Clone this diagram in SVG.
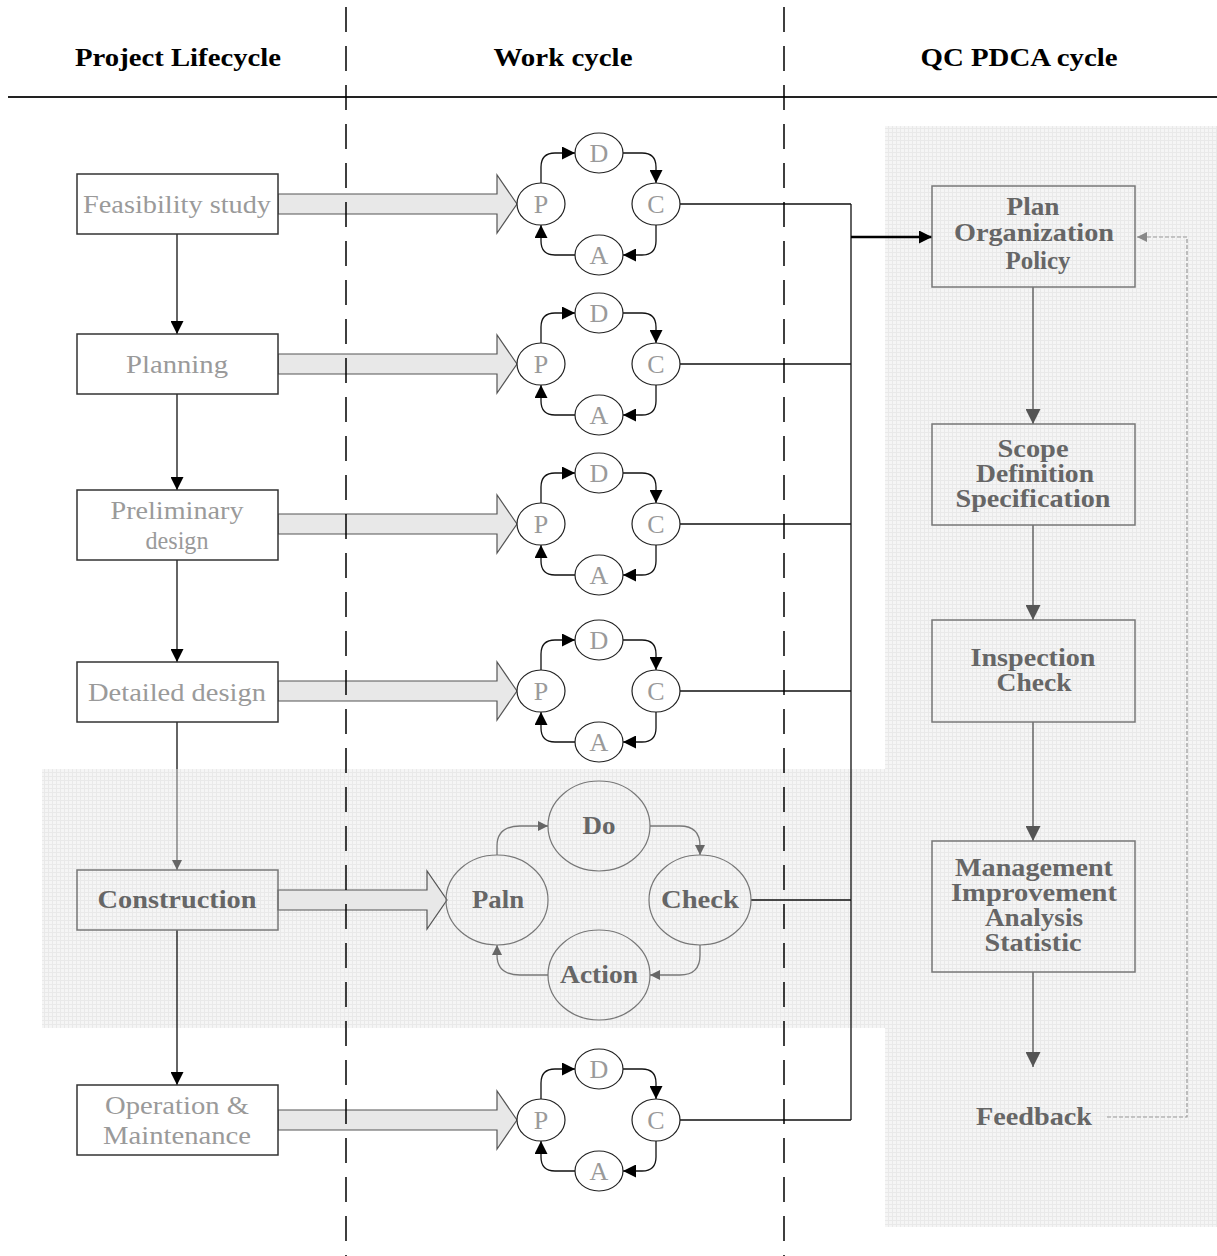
<svg xmlns="http://www.w3.org/2000/svg" width="1217" height="1256" viewBox="0 0 1217 1256">
<style>
.hd{font-family:"Liberation Serif",serif;font-weight:bold;font-size:26px;fill:#000;text-anchor:middle}
.lt{font-family:"Liberation Serif",serif;font-size:26px;fill:#9a9a9a;text-anchor:middle}
.pd{font-family:"Liberation Serif",serif;font-size:26px;fill:#9a9a9a;text-anchor:middle}
.bt{font-family:"Liberation Serif",serif;font-weight:bold;font-size:25px;fill:#666;text-anchor:middle}
.box{fill:#fff;stroke:#333;stroke-width:1.5}
.gbox{fill:none;stroke:#777;stroke-width:1.5}
.el{fill:#fff;stroke:#222;stroke-width:1.2}
.gel{fill:none;stroke:#777;stroke-width:1.2}
.blk{fill:#e8e8e8;stroke:#555;stroke-width:1.2}
.ln{fill:none;stroke:#111;stroke-width:1.3}
.gln{fill:none;stroke:#777;stroke-width:1.3}
.div{fill:none;stroke:#000;stroke-width:1.5;stroke-dasharray:25 14}
</style>
<defs>
<pattern id="grid" width="4" height="4" patternUnits="userSpaceOnUse"><rect width="4" height="4" fill="#f5f5f5"/><path d="M0,0.5H4M0.5,0V4" stroke="#e9e9e9" stroke-width="1"/></pattern>
<marker id="ah" viewBox="0 0 10 10" refX="10" refY="5" markerWidth="13" markerHeight="13" markerUnits="userSpaceOnUse" orient="auto"><path d="M0,0L10,5L0,10z" fill="#000"/></marker>
<marker id="ahb" viewBox="0 0 10 10" refX="10" refY="5" markerWidth="14" markerHeight="13" markerUnits="userSpaceOnUse" orient="auto"><path d="M0,0L10,5L0,10z" fill="#000"/></marker>
<marker id="ahg" viewBox="0 0 10 10" refX="10" refY="5" markerWidth="10" markerHeight="10" markerUnits="userSpaceOnUse" orient="auto"><path d="M0,0L10,5L0,10z" fill="#666"/></marker>
<marker id="ahr" viewBox="0 0 10 10" refX="10" refY="5" markerWidth="18" markerHeight="15" markerUnits="userSpaceOnUse" orient="auto"><path d="M0,0L10,5L0,10z" fill="#555"/></marker>
<marker id="ahf" viewBox="0 0 10 10" refX="10" refY="5" markerWidth="10" markerHeight="10" markerUnits="userSpaceOnUse" orient="auto"><path d="M0,0L10,5L0,10z" fill="#888"/></marker>
</defs>

<!-- background regions -->
<rect x="885" y="126" width="332" height="1101" fill="url(#grid)"/>
<rect x="42" y="769" width="843" height="259" fill="url(#grid)"/>

<!-- header -->
<g id="header">
<text class="hd" x="178" y="66" textLength="206" lengthAdjust="spacingAndGlyphs">Project Lifecycle</text>
<text class="hd" x="563" y="66" textLength="139" lengthAdjust="spacingAndGlyphs">Work cycle</text>
<text class="hd" x="1019" y="66" textLength="197" lengthAdjust="spacingAndGlyphs">QC PDCA cycle</text>
<path d="M8,97H1217" stroke="#222" stroke-width="2"/>
</g>

<!-- block arrows -->
<g id="block-arrows">
<polygon class="blk" points="278,194 497,194 497,175 517,204 497,233 497,214 278,214"/>
<polygon class="blk" points="278,354 497,354 497,335 517,364 497,393 497,374 278,374"/>
<polygon class="blk" points="278,514 497,514 497,495 517,524 497,553 497,534 278,534"/>
<polygon class="blk" points="278,681 497,681 497,662 517,691 497,720 497,701 278,701"/>
<polygon class="blk" points="278,890 427,890 427,871 447,900 427,929 427,910 278,910"/>
<polygon class="blk" points="278,1110 497,1110 497,1091 517,1120 497,1149 497,1130 278,1130"/>
</g>

<!-- connectors -->
<g id="connectors">
<!-- lifecycle -->
<path class="ln" d="M177,234V334" marker-end="url(#ah)"/>
<path class="ln" d="M177,394V490" marker-end="url(#ah)"/>
<path class="ln" d="M177,560V662" marker-end="url(#ah)"/>
<path class="ln" d="M177,722V769"/>
<path class="gln" d="M177,769V870" marker-end="url(#ahg)"/>
<path class="ln" d="M177,930V1085" marker-end="url(#ah)"/>
<!-- small cycles -->
<g transform="translate(541,204)"><path class="ln" d="M0,-21V-37Q0,-51 14,-51H34" marker-end="url(#ah)"/><path class="ln" d="M82,-51H101Q115,-51 115,-37V-21" marker-end="url(#ah)"/><path class="ln" d="M115,21V37Q115,51 101,51H82" marker-end="url(#ah)"/><path class="ln" d="M34,51H14Q0,51 0,37V21" marker-end="url(#ah)"/></g>
<g transform="translate(541,364)"><path class="ln" d="M0,-21V-37Q0,-51 14,-51H34" marker-end="url(#ah)"/><path class="ln" d="M82,-51H101Q115,-51 115,-37V-21" marker-end="url(#ah)"/><path class="ln" d="M115,21V37Q115,51 101,51H82" marker-end="url(#ah)"/><path class="ln" d="M34,51H14Q0,51 0,37V21" marker-end="url(#ah)"/></g>
<g transform="translate(541,524)"><path class="ln" d="M0,-21V-37Q0,-51 14,-51H34" marker-end="url(#ah)"/><path class="ln" d="M82,-51H101Q115,-51 115,-37V-21" marker-end="url(#ah)"/><path class="ln" d="M115,21V37Q115,51 101,51H82" marker-end="url(#ah)"/><path class="ln" d="M34,51H14Q0,51 0,37V21" marker-end="url(#ah)"/></g>
<g transform="translate(541,691)"><path class="ln" d="M0,-21V-37Q0,-51 14,-51H34" marker-end="url(#ah)"/><path class="ln" d="M82,-51H101Q115,-51 115,-37V-21" marker-end="url(#ah)"/><path class="ln" d="M115,21V37Q115,51 101,51H82" marker-end="url(#ah)"/><path class="ln" d="M34,51H14Q0,51 0,37V21" marker-end="url(#ah)"/></g>
<g transform="translate(541,1120)"><path class="ln" d="M0,-21V-37Q0,-51 14,-51H34" marker-end="url(#ah)"/><path class="ln" d="M82,-51H101Q115,-51 115,-37V-21" marker-end="url(#ah)"/><path class="ln" d="M115,21V37Q115,51 101,51H82" marker-end="url(#ah)"/><path class="ln" d="M34,51H14Q0,51 0,37V21" marker-end="url(#ah)"/></g>
<!-- big cycle -->
<path class="gln" d="M497,855V846Q497,826 520,826H548" marker-end="url(#ahg)"/>
<path class="gln" d="M650,826H680Q700,826 700,846V855" marker-end="url(#ahg)"/>
<path class="gln" d="M700,945V955Q700,975 680,975H650" marker-end="url(#ahg)"/>
<path class="gln" d="M548,975H520Q497,975 497,955V945" marker-end="url(#ahg)"/>
<!-- to QC -->
<path class="ln" d="M680,204H851M680,364H851M680,524H851M680,691H851M751,900H851M680,1120H851M851,204V1120"/>
<path d="M851,237H932" fill="none" stroke="#000" stroke-width="2.5" marker-end="url(#ahb)"/>
<!-- QC chain -->
<path d="M1033,287V424" fill="none" stroke="#666" stroke-width="1.5" marker-end="url(#ahr)"/>
<path d="M1033,525V620" fill="none" stroke="#666" stroke-width="1.5" marker-end="url(#ahr)"/>
<path d="M1033,722V841" fill="none" stroke="#666" stroke-width="1.5" marker-end="url(#ahr)"/>
<path d="M1033,972V1067" fill="none" stroke="#666" stroke-width="1.5" marker-end="url(#ahr)"/>
<path d="M1107,1117H1187V237H1137" fill="none" stroke="#999" stroke-width="1.2" stroke-dasharray="4 2" marker-end="url(#ahf)"/>
</g>

<!-- lifecycle nodes -->
<g id="n-feasibility"><rect class="box" x="77" y="174" width="201" height="60"/><text class="lt" x="177" y="213" textLength="188" lengthAdjust="spacingAndGlyphs">Feasibility study</text></g>
<g id="n-planning"><rect class="box" x="77" y="334" width="201" height="60"/><text class="lt" x="177" y="373" textLength="102" lengthAdjust="spacingAndGlyphs">Planning</text></g>
<g id="n-preliminary"><rect class="box" x="77" y="490" width="201" height="70"/><text class="lt" x="177" y="519" textLength="133" lengthAdjust="spacingAndGlyphs">Preliminary</text><text class="lt" x="177" y="549" textLength="63" lengthAdjust="spacingAndGlyphs">design</text></g>
<g id="n-detailed"><rect class="box" x="77" y="662" width="201" height="60"/><text class="lt" x="177" y="701" textLength="178" lengthAdjust="spacingAndGlyphs">Detailed design</text></g>
<g id="n-construction"><rect class="gbox" x="77" y="870" width="201" height="60"/><text class="bt" x="177" y="908" textLength="159" lengthAdjust="spacingAndGlyphs">Construction</text></g>
<g id="n-operation"><rect class="box" x="77" y="1085" width="201" height="70"/><text class="lt" x="177" y="1114" textLength="144" lengthAdjust="spacingAndGlyphs">Operation &amp;</text><text class="lt" x="177" y="1144" textLength="148" lengthAdjust="spacingAndGlyphs">Maintenance</text></g>

<!-- small cycles -->
<g id="cycle-1"><ellipse class="el" cx="541" cy="204" rx="24" ry="21"/><text class="pd" x="541" y="213">P</text><ellipse class="el" cx="599" cy="153" rx="24" ry="20"/><text class="pd" x="599" y="162">D</text><ellipse class="el" cx="656" cy="204" rx="24" ry="21"/><text class="pd" x="656" y="213">C</text><ellipse class="el" cx="599" cy="255" rx="24" ry="20"/><text class="pd" x="599" y="264">A</text></g>
<g id="cycle-2"><ellipse class="el" cx="541" cy="364" rx="24" ry="21"/><text class="pd" x="541" y="373">P</text><ellipse class="el" cx="599" cy="313" rx="24" ry="20"/><text class="pd" x="599" y="322">D</text><ellipse class="el" cx="656" cy="364" rx="24" ry="21"/><text class="pd" x="656" y="373">C</text><ellipse class="el" cx="599" cy="415" rx="24" ry="20"/><text class="pd" x="599" y="424">A</text></g>
<g id="cycle-3"><ellipse class="el" cx="541" cy="524" rx="24" ry="21"/><text class="pd" x="541" y="533">P</text><ellipse class="el" cx="599" cy="473" rx="24" ry="20"/><text class="pd" x="599" y="482">D</text><ellipse class="el" cx="656" cy="524" rx="24" ry="21"/><text class="pd" x="656" y="533">C</text><ellipse class="el" cx="599" cy="575" rx="24" ry="20"/><text class="pd" x="599" y="584">A</text></g>
<g id="cycle-4"><ellipse class="el" cx="541" cy="691" rx="24" ry="21"/><text class="pd" x="541" y="700">P</text><ellipse class="el" cx="599" cy="640" rx="24" ry="20"/><text class="pd" x="599" y="649">D</text><ellipse class="el" cx="656" cy="691" rx="24" ry="21"/><text class="pd" x="656" y="700">C</text><ellipse class="el" cx="599" cy="742" rx="24" ry="20"/><text class="pd" x="599" y="751">A</text></g>
<g id="cycle-6"><ellipse class="el" cx="541" cy="1120" rx="24" ry="21"/><text class="pd" x="541" y="1129">P</text><ellipse class="el" cx="599" cy="1069" rx="24" ry="20"/><text class="pd" x="599" y="1078">D</text><ellipse class="el" cx="656" cy="1120" rx="24" ry="21"/><text class="pd" x="656" y="1129">C</text><ellipse class="el" cx="599" cy="1171" rx="24" ry="20"/><text class="pd" x="599" y="1180">A</text></g>

<!-- big cycle -->
<g id="n-paln"><ellipse class="gel" cx="497" cy="900" rx="51" ry="45"/><text class="bt" x="498" y="908" textLength="52" lengthAdjust="spacingAndGlyphs">Paln</text></g>
<g id="n-do"><ellipse class="gel" cx="599" cy="826" rx="51" ry="45"/><text class="bt" x="599" y="834" textLength="33" lengthAdjust="spacingAndGlyphs">Do</text></g>
<g id="n-check"><ellipse class="gel" cx="700" cy="900" rx="51" ry="45"/><text class="bt" x="700" y="908" textLength="78" lengthAdjust="spacingAndGlyphs">Check</text></g>
<g id="n-action"><ellipse class="gel" cx="599" cy="975" rx="51" ry="45"/><text class="bt" x="599" y="983" textLength="78" lengthAdjust="spacingAndGlyphs">Action</text></g>

<!-- QC nodes -->
<g id="n-plan"><rect class="gbox" x="932" y="186" width="203" height="101"/><text class="bt" x="1033" y="215" textLength="53" lengthAdjust="spacingAndGlyphs">Plan</text><text class="bt" x="1034" y="241" textLength="160" lengthAdjust="spacingAndGlyphs">Organization</text><text class="bt" x="1038" y="269" textLength="65" lengthAdjust="spacingAndGlyphs">Policy</text></g>
<g id="n-scope"><rect class="gbox" x="932" y="424" width="203" height="101"/><text class="bt" x="1033" y="457" textLength="71" lengthAdjust="spacingAndGlyphs">Scope</text><text class="bt" x="1035" y="482" textLength="118" lengthAdjust="spacingAndGlyphs">Definition</text><text class="bt" x="1033" y="507" textLength="155" lengthAdjust="spacingAndGlyphs">Specification</text></g>
<g id="n-inspection"><rect class="gbox" x="932" y="620" width="203" height="102"/><text class="bt" x="1033" y="666" textLength="125" lengthAdjust="spacingAndGlyphs">Inspection</text><text class="bt" x="1034" y="691" textLength="75" lengthAdjust="spacingAndGlyphs">Check</text></g>
<g id="n-management"><rect class="gbox" x="932" y="841" width="203" height="131"/><text class="bt" x="1034" y="876" textLength="158" lengthAdjust="spacingAndGlyphs">Management</text><text class="bt" x="1034" y="901" textLength="166" lengthAdjust="spacingAndGlyphs">Improvement</text><text class="bt" x="1034" y="926" textLength="98" lengthAdjust="spacingAndGlyphs">Analysis</text><text class="bt" x="1033" y="951" textLength="97" lengthAdjust="spacingAndGlyphs">Statistic</text></g>
<g id="n-feedback"><text class="bt" x="1034" y="1125" textLength="116" lengthAdjust="spacingAndGlyphs">Feedback</text></g>

<!-- dividers -->
<g id="dividers">
<path class="div" d="M346,7V1256"/>
<path class="div" d="M784,7V1256"/>
</g>
</svg>
